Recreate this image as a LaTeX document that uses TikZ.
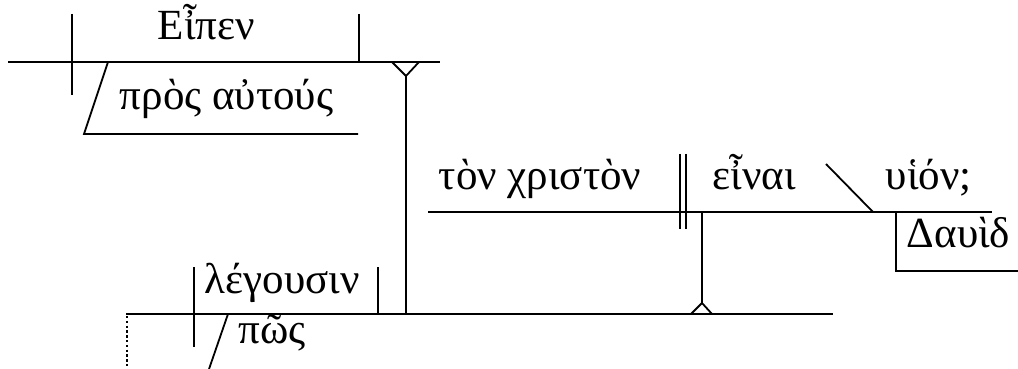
\documentclass[tikz,border=0pt]{standalone}
\usepackage{fontspec}
\setmainfont{Liberation Serif}
\begin{document}
\begin{tikzpicture}[x=0.5pt, y=-0.5pt, line width=0.9pt,
        word/.style={anchor=base west, inner sep=0pt, font=\fontsize{21.5}{24}\selectfont}]
                \useasboundingbox (0,0) rectangle (1018,369);
                \clip (0,0) rectangle (1018,369);
                % Main clause
                \coordinate (mainL) at (8,62);
                \coordinate (mainR) at (440,62);
                \draw (mainL) -- (mainR);
                \draw (72,14) -- (72,95);
                \draw (359,14) -- (359,62);
                \node[word] (eipen) at (157,40) {Εἶπεν};
                % Prepositional phrase
                \coordinate (prosTop) at (108,62);
                \coordinate (prosL) at (84,134);
                \coordinate (prosR) at (358,134);
                \draw (prosTop) -- (prosL) -- (prosR);
                \node[word] (pros) at (119,110) {πρὸς αὐτούς};
                % Object clause on its stem
                \coordinate (forkL) at (392,62);
                \coordinate (forkM) at (406,76);
                \coordinate (forkR) at (419,62);
                \coordinate (stemA) at (406,314);
                \draw (forkL) -- (forkM) -- (forkR);
                \draw (forkM) -- (stemA);
                % Lower line
                \coordinate (lowL) at (126,314);
                \coordinate (lowR) at (833,314);
                \draw (lowL) -- (lowR);
                \draw[dash pattern=on 1.2pt off 1.2pt, line width=1.3pt] (127,316) -- (127,372);
                \draw (194,267) -- (194,347);
                \draw (378,267) -- (378,314);
                \node[word] (legousin) at (204,293) {λέγουσιν};
                \draw (228,314) -- (208,372);
                \node[word] (pos) at (238,343) {πῶς};
                % Infinitive clause
                \coordinate (infL) at (428,212);
                \coordinate (infR) at (992,212);
                \draw (infL) -- (infR);
                \foreach \x in {680,686}
                    \draw (\x,154) -- (\x,229);
                \node[word] (christon) at (438,190) {τὸν χριστὸν};
                \node[word] (einai) at (712,190) {εἶναι};
                \draw (826,164) -- (873,212);
                \node[word] (huion) at (885,190) {υἱόν;};
                % Stem to the lower line
                \coordinate (stemB) at (702,212);
                \coordinate (peak) at (702,303);
                \draw (stemB) -- (peak);
                \draw (691,314) -- (peak) -- (712,314);
                % Genitive
                \draw (896,212) -- (896,271) -- (1018,271);
                \node[word] (david) at (906,247) {Δαυὶδ};
            \end{tikzpicture}
\end{document}
